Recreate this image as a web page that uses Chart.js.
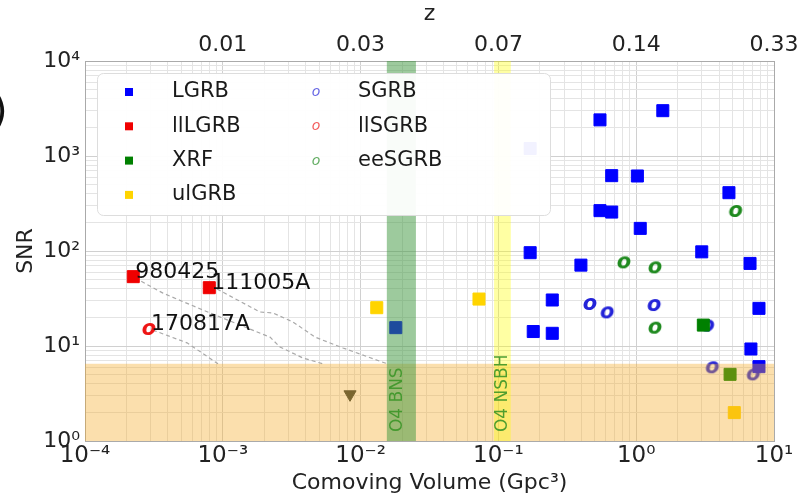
<!DOCTYPE html>
<html lang="en">
  <head>
    <meta charset="UTF-8" />
    <title>GRB SNR vs comoving volume</title>
    <script src="https://cdn.jsdelivr.net/npm/chart.js"></script>
    <style>
      body {
        margin: 0;
        background: #fff;
      }
      #grbChart {
        display: block;
      }
    </style>
  </head>
  <body>
    <canvas id="grbChart" width="804" height="496"></canvas>

    <script>
      // comoving volume (Gpc^3) and SNR for each GRB class
      const lgrbVol = [1.56, 0.546, 0.664, 1.02, 0.546, 0.664, 4.71, 1.07, 0.17, 2.99, 6.7, 0.17, 0.397, 0.246, 7.78, 0.179, 0.246, 0.018, 6.8, 7.78];
      const lgrbSnr = [3000, 2400, 621, 616, 266, 257, 411, 173, 96, 98, 74, 1200, 71, 30.5, 24.9, 14.2, 13.6, 15.6, 9.3, 6.06];
      const llLgrbVol = [2.24e-4, 7.98e-4];
      const llLgrbSnr = [53.7, 41.1];
      const xrfVol = [3.07, 4.8];
      const xrfSnr = [16.6, 5.03];
      const ulGrbVol = [0.0131, 0.0723, 5.15];
      const ulGrbSnr = [25.3, 31.2, 1.99];
      const sgrbVol = [0.462, 0.616, 1.35, 3.3, 3.57, 7.08];
      const sgrbSnr = [27.7, 22.6, 27, 16.4, 5.97, 5.03];
      const llSgrbVol = [2.91e-4];
      const llSgrbSnr = [15.1];
      const eeSgrbVol = [0.815, 1.37, 1.37, 5.27];
      const eeSgrbSnr = [76, 67.3, 15.6, 264];
      const limitVol = [0.00838];
      const limitSnr = [3.1];

      // SNR tracks of the nearby bursts moved to larger distance
      const track980425Vol = [2.31e-4, 3.68e-4, 7.18e-4, 2.2e-3, 2.6e-3, 3.82e-3, 5.33e-3];
      const track980425Snr = [52, 36, 23.9, 12.4, 9.76, 7.47, 6.5];
      const track111005Vol = [9.08e-4, 1.86e-3, 2.31e-3, 3.23e-3, 4.67e-3, 7.45e-3, 0.0156];
      const track111005Snr = [39.8, 22.8, 22.3, 17.9, 12.4, 9.53, 6.5];
      const track170817Vol = [3.11e-4, 5.5e-4, 9.23e-4];
      const track170817Snr = [14.7, 10.8, 6.5];

      const namedBursts = ["980425", "111005A", "170817A"];
      const namedVol = [2.24e-4, 7.98e-4, 2.91e-4];
      const namedSnr = [53.7, 41.1, 15.1];

      const snrThreshold = 6.5;
      const bnsRange = [0.0155, 0.0252];
      const nsbhRange = [0.093, 0.123];

      const xTickLabels = ["10⁻⁴", "10⁻³", "10⁻²", "10⁻¹", "10⁰", "10¹"];
      const zTickLabels = ["", "0.01", "0.03", "0.07", "0.14", "0.33"];
      const yTickLabels = ["10⁰", "10¹", "10²", "10³", "10⁴"];

      const FONT = '"DejaVu Sans", sans-serif';
      const pts = (xs, ys) => xs.map((x, i) => ({ x: x, y: ys[i] }));

      // matplotlib "$o$" style marker
      function oMarker(color, size) {
        const c = document.createElement("canvas");
        c.width = 24;
        c.height = 24;
        const g = c.getContext("2d");
        g.font = "italic bold " + size + "px " + FONT;
        g.fillStyle = color;
        g.textAlign = "center";
        g.textBaseline = "alphabetic";
        g.fillText("o", 12, 12 + size * 0.27);
        return c;
      }

      function logGrid(lo, hi) {
        const t = [];
        for (let e = lo; e < hi; e++) {
          for (let m = 1; m < 10; m++) t.push({ value: m * Math.pow(10, e) });
        }
        t.push({ value: Math.pow(10, hi) });
        return t;
      }

      function isDecade(v) {
        const e = Math.log10(v);
        return Math.abs(e - Math.round(e)) < 1e-6;
      }

      function decadeLabel(labels, lowExp) {
        return (v) => (isDecade(v) ? labels[Math.round(Math.log10(v)) - lowExp] : "");
      }

      const gridColor = (c) => (c.tick && isDecade(c.tick.value) ? "#d0d0d0" : "#e4e4e4");

      const colors = {
        LGRB: "#0000ff",
        llLGRB: "#f00000",
        XRF: "#008000",
        ulGRB: "#ffd400",
        SGRB: "#2323d8",
        llSGRB: "#ee1515",
        eeSGRB: "#1f8a1f",
      };

      const squareSet = (label, data) => ({
        label: label,
        data: data,
        pointStyle: "rect",
        pointRadius: 8.5,
        backgroundColor: colors[label],
        borderColor: colors[label],
        borderWidth: 1,
      });

      const oSet = (label, data) => ({
        label: label,
        data: data,
        pointStyle: oMarker(colors[label], 21),
        pointRadius: 6,
        backgroundColor: colors[label],
      });

      const trackSet = (data) => ({
        label: "",
        data: data,
        showLine: true,
        borderColor: "#a9a9a9",
        borderWidth: 1.2,
        borderDash: [4, 3],
        pointRadius: 0,
      });

      const legendItems = [
        { label: "LGRB", kind: "square" },
        { label: "llLGRB", kind: "square" },
        { label: "XRF", kind: "square" },
        { label: "ulGRB", kind: "square" },
        { label: "SGRB", kind: "o" },
        { label: "llSGRB", kind: "o" },
        { label: "eeSGRB", kind: "o" },
      ];

      const overlays = {
        id: "overlays",
        afterDatasetsDraw(chart) {
          const { ctx, chartArea: a, scales } = chart;
          const x = scales.x;
          const y = scales.y;
          ctx.save();
          ctx.beginPath();
          ctx.rect(a.left, a.top, a.right - a.left, a.bottom - a.top);
          ctx.clip();

          const ty = y.getPixelForValue(snrThreshold);
          ctx.fillStyle = "rgba(245,170,40,0.38)";
          ctx.fillRect(a.left, ty, a.right - a.left, a.bottom - ty);

          const band = (r, fill) => {
            const x0 = x.getPixelForValue(r[0]);
            const x1 = x.getPixelForValue(r[1]);
            ctx.fillStyle = fill;
            ctx.fillRect(x0, a.top, x1 - x0, a.bottom - a.top);
          };
          band(bnsRange, "rgba(60,150,60,0.5)");
          band(nsbhRange, "rgba(255,255,0,0.36)");

          // vertical band labels
          ctx.font = "17px " + FONT;
          ctx.fillStyle = "rgba(60,150,40,0.9)";
          ctx.textAlign = "left";
          ctx.textBaseline = "middle";
          [
            ["O4 BNS", 0.0187],
            ["O4 NSBH", 0.107],
          ].forEach(([t, v]) => {
            ctx.save();
            ctx.translate(x.getPixelForValue(v), y.getPixelForValue(1.24));
            ctx.rotate(-Math.PI / 2);
            ctx.fillText(t, 0, 0);
            ctx.restore();
          });
          ctx.restore();

          // burst names
          ctx.save();
          ctx.font = "22px " + FONT;
          ctx.fillStyle = "#111";
          ctx.textAlign = "left";
          ctx.textBaseline = "alphabetic";
          namedBursts.forEach((n, i) => {
            ctx.fillText(n, x.getPixelForValue(namedVol[i]) + 2, y.getPixelForValue(namedSnr[i]) + 1);
          });
          ctx.restore();
        },
        afterDraw(chart) {
          const { ctx, chartArea: a } = chart;
          ctx.save();
          // right spine
          ctx.strokeStyle = "#aaaaaa";
          ctx.lineWidth = 1;
          ctx.beginPath();
          ctx.moveTo(a.right + 0.5, a.top);
          ctx.lineTo(a.right + 0.5, a.bottom);
          ctx.stroke();

          // legend box
          const lx = a.left + 12;
          const ly = a.top + 12;
          const lw = 453;
          const lh = 142;
          ctx.beginPath();
          ctx.roundRect(lx + 0.5, ly + 0.5, lw, lh, 6);
          ctx.fillStyle = "rgba(255,255,255,0.95)";
          ctx.fill();
          ctx.strokeStyle = "#dddddd";
          ctx.stroke();

          ctx.font = "21px " + FONT;
          ctx.textBaseline = "middle";
          ctx.textAlign = "left";
          legendItems.forEach((it, i) => {
            const col = i < 4 ? 0 : 1;
            const row = i < 4 ? i : i - 4;
            const cy = ly + 19 + row * 34.3;
            const mx = lx + (col === 0 ? 32 : 219);
            const tx = lx + (col === 0 ? 75 : 261);
            if (it.kind === "square") {
              ctx.fillStyle = colors[it.label];
              ctx.fillRect(mx - 4, cy - 4, 8, 8);
            } else {
              ctx.save();
              ctx.globalAlpha = 0.7;
              ctx.font = "italic 14px " + FONT;
              ctx.fillStyle = colors[it.label];
              ctx.textAlign = "center";
              ctx.textBaseline = "alphabetic";
              ctx.fillText("o", mx, cy + 4);
              ctx.restore();
            }
            ctx.fillStyle = "#1a1a1a";
            ctx.fillText(it.label, tx, cy);
          });

          // cropped panel mark at the left edge
          ctx.font = "40px " + FONT;
          ctx.fillStyle = "#111";
          ctx.textBaseline = "alphabetic";
          ctx.fillText(")", -8, 124);
          ctx.restore();
        },
      };

      new Chart(document.getElementById("grbChart"), {
        type: "scatter",
        data: {
          datasets: [
            squareSet("LGRB", pts(lgrbVol, lgrbSnr)),
            squareSet("llLGRB", pts(llLgrbVol, llLgrbSnr)),
            squareSet("XRF", pts(xrfVol, xrfSnr)),
            squareSet("ulGRB", pts(ulGrbVol, ulGrbSnr)),
            oSet("SGRB", pts(sgrbVol, sgrbSnr)),
            oSet("llSGRB", pts(llSgrbVol, llSgrbSnr)),
            oSet("eeSGRB", pts(eeSgrbVol, eeSgrbSnr)),
            {
              label: "",
              data: pts(limitVol, limitSnr),
              pointStyle: "triangle",
              rotation: 180,
              pointRadius: 7,
              backgroundColor: "#303c36",
              borderColor: "#303c36",
            },
            trackSet(pts(track980425Vol, track980425Snr)),
            trackSet(pts(track111005Vol, track111005Snr)),
            trackSet(pts(track170817Vol, track170817Snr)),
          ],
        },
        options: {
          responsive: false,
          animation: false,
          layout: { padding: { left: 0, right: 30, top: 0, bottom: 0 } },
          plugins: {
            legend: { display: false },
            tooltip: { enabled: false },
          },
          scales: {
            x: {
              type: "logarithmic",
              position: "bottom",
              min: 1e-4,
              max: 10,
              afterBuildTicks: (s) => {
                s.ticks = logGrid(-4, 1);
              },
              afterFit: (s) => {
                s.height = 55;
              },
              grid: { color: gridColor, drawTicks: false },
              border: { color: "#aaaaaa" },
              ticks: {
                autoSkip: false,
                maxRotation: 0,
                padding: 1,
                color: "#222",
                font: { family: FONT, size: 23 },
                callback: decadeLabel(xTickLabels, -4),
              },
              title: {
                display: true,
                text: "Comoving Volume (Gpc³)",
                color: "#222",
                font: { family: FONT, size: 22, lineHeight: 1 },
                padding: { top: 0, bottom: 2 },
              },
            },
            x2: {
              type: "logarithmic",
              position: "top",
              min: 1e-4,
              max: 10,
              afterBuildTicks: (s) => {
                s.ticks = logGrid(-4, 1);
              },
              afterFit: (s) => {
                s.height = 61;
              },
              grid: { display: false, drawTicks: false },
              border: { color: "#aaaaaa" },
              ticks: {
                autoSkip: false,
                maxRotation: 0,
                padding: 3,
                color: "#222",
                font: { family: FONT, size: 22 },
                callback: decadeLabel(zTickLabels, -4),
              },
              title: {
                display: true,
                text: "z",
                color: "#222",
                font: { family: FONT, size: 22, lineHeight: 1 },
                padding: { top: 3, bottom: 0 },
              },
            },
            y: {
              type: "logarithmic",
              min: 1,
              max: 1e4,
              afterBuildTicks: (s) => {
                s.ticks = logGrid(0, 4);
              },
              afterFit: (s) => {
                s.width = 85;
              },
              grid: { color: gridColor, drawTicks: false },
              border: { color: "#aaaaaa" },
              ticks: {
                autoSkip: false,
                padding: 5,
                color: "#222",
                font: { family: FONT, size: 22 },
                callback: decadeLabel(yTickLabels, 0),
              },
              title: {
                display: true,
                text: "SNR",
                color: "#222",
                font: { family: FONT, size: 22, lineHeight: 1 },
                padding: { top: 15, bottom: 0 },
              },
            },
          },
        },
        plugins: [overlays],
      });
    </script>
  </body>
</html>
